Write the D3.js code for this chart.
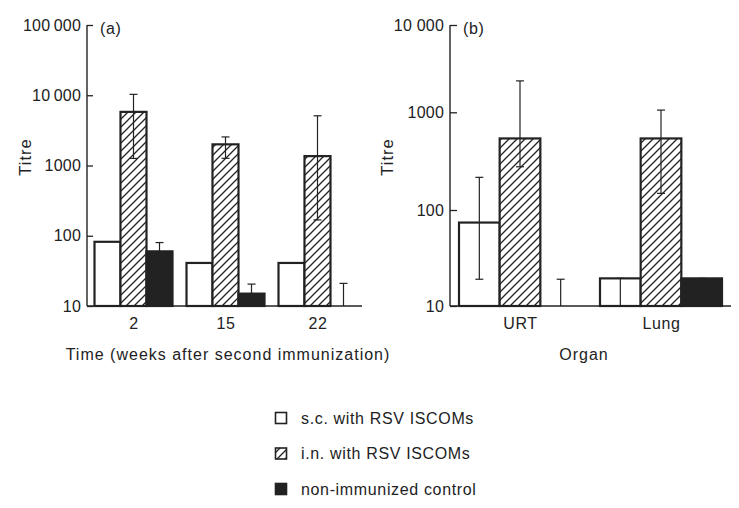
<!DOCTYPE html>
<html><head><meta charset="utf-8">
<script src="https://cdn.jsdelivr.net/npm/d3@7"></script>
<style>
body{margin:0;background:#fff;}
text{font-family:"Liberation Sans",Arial,sans-serif;fill:#222;}
</style></head>
<body><svg id="c" width="739" height="508"></svg>
<script>
// ---- data ----
const weeks = ["2", "15", "22"];
const scA = [82, 41, 41];
const inA = [5800, 2000, 1360];
const inLowA = [1260, 1265, 168];
const inHighA = [10300, 2550, 5100];
const ctrlA = [60, 15, 10];
const ctrlHighA = [80, 20.5, 21];

const organs = ["URT", "Lung"];
const scB = [74, 19.4];
const scLowB = [19, 10];
const scHighB = [216, 19.4];
const inB = [540, 540];
const inLowB = [277, 148];
const inHighB = [2290, 1060];
const ctrlB = [10, 19.4];
const ctrlHighB = [19, 19.4];

const tickValsA = [10, 100, 1000, 10000, 100000];
const tickLabA = ["10", "100", "1000", "10\u2009000", "100\u2009000"];
const tickValsB = [10, 100, 1000, 10000];
const tickLabB = ["10", "100", "1000", "10 000"];

const seriesNames = ["s.c. with RSV ISCOMs", "i.n. with RSV ISCOMs", "non-immunized control"];
const seriesKeys = ["sc", "in", "ctrl"];

const svg = d3.select("#c");
const ink = "#222";
const FS = "16px";

const defs = svg.append("defs");
const pat = defs.append("pattern").attr("id", "hatch").attr("patternUnits", "userSpaceOnUse")
  .attr("width", 8).attr("height", 8);
pat.append("rect").attr("width", 8).attr("height", 8).attr("fill", "#fff");
pat.append("path").attr("d", "M0,8 L8,0 M-2,2 L2,-2 M6,10 L10,6")
  .attr("stroke", ink).attr("stroke-width", 1.3);
const fills = {sc: "#fff", in: "url(#hatch)", ctrl: ink};

function panel(opt) {
  const g = svg.append("g");
  const y = d3.scaleLog().domain(opt.yDomain).range(opt.yRange);
  const x0 = d3.scalePoint().domain(opt.cats).range(opt.xCenters);
  const x1 = d3.scaleBand().domain(seriesKeys).range([-opt.half, opt.half]);
  const bw = x1.bandwidth();

  const rows = opt.cats.map((c, i) => ({
    cat: c,
    sc: {v: opt.sc[i], lo: opt.scLow ? opt.scLow[i] : null, hi: opt.scHigh ? opt.scHigh[i] : null},
    in: {v: opt.inn[i], lo: opt.inLow[i], hi: opt.inHigh[i]},
    ctrl: {v: opt.ctrl[i], lo: null, hi: opt.ctrlHigh[i]}
  }));

  // bars
  rows.forEach(r => {
    seriesKeys.forEach(k => {
      const d = r[k];
      if (d.v > opt.yDomain[0]) {
        g.append("rect")
          .attr("x", x0(r.cat) + x1(k))
          .attr("y", y(d.v))
          .attr("width", bw)
          .attr("height", y(opt.yDomain[0]) - y(d.v))
          .attr("fill", fills[k]).attr("stroke", ink).attr("stroke-width", 2.2);
      }
    });
  });
  // error bars
  rows.forEach(r => {
    seriesKeys.forEach(k => {
      const d = r[k];
      if (d.hi == null) return;
      const cx = x0(r.cat) + x1(k) + bw / 2;
      const lo = d.lo == null ? d.v : d.lo;
      g.append("line").attr("x1", cx).attr("x2", cx).attr("y1", y(lo)).attr("y2", y(d.hi))
        .attr("stroke", ink).attr("stroke-width", 1.2);
      g.append("line").attr("x1", cx - 4).attr("x2", cx + 4).attr("y1", y(d.hi)).attr("y2", y(d.hi))
        .attr("stroke", ink).attr("stroke-width", 1.2);
      if (d.lo != null && d.lo > opt.yDomain[0]) {
        g.append("line").attr("x1", cx - 4).attr("x2", cx + 4).attr("y1", y(d.lo)).attr("y2", y(d.lo))
          .attr("stroke", ink).attr("stroke-width", 1.2);
      }
    });
  });

  // y axis
  const yAxis = d3.axisRight(y).tickValues(opt.tickVals).tickFormat((d, i) => opt.tickLab[i])
    .tickSize(opt.tickLen).tickPadding(0);
  const ya = g.append("g").attr("transform", `translate(${opt.axisX},0)`).call(yAxis);
  ya.select(".domain").remove();
  ya.selectAll(".tick line").attr("stroke", ink).attr("stroke-width", 1.3);
  ya.selectAll(".tick text").attr("x", -6).attr("text-anchor", "end")
    .style("font-size", FS).style("font-family", "'Liberation Sans',Arial,sans-serif")
    .style("letter-spacing", "0.2px").attr("fill", ink);
  g.append("line").attr("x1", opt.axisX).attr("x2", opt.axisX)
    .attr("y1", opt.yRange[opt.yRange.length - 1]).attr("y2", opt.yRange[0])
    .attr("stroke", ink).attr("stroke-width", 1.4);
  // x axis
  g.append("line").attr("x1", opt.axisX).attr("x2", opt.xEnd)
    .attr("y1", opt.yRange[0]).attr("y2", opt.yRange[0])
    .attr("stroke", ink).attr("stroke-width", 1.4);
  const xa = d3.axisBottom(x0).tickSize(0).tickPadding(0);
  const xg = g.append("g").attr("transform", `translate(0,${opt.yRange[0]})`).call(xa);
  xg.select(".domain").remove();
  xg.selectAll(".tick text").attr("y", 12).attr("dy", "0.71em")
    .style("font-size", FS).style("font-family", "'Liberation Sans',Arial,sans-serif")
    .style("letter-spacing", "0.6px").attr("fill", ink);

  // titles
  g.append("text").attr("x", opt.axisX + 13).attr("y", 34).text(opt.letter)
    .style("font-size", FS).style("letter-spacing", "0.6px");
  g.append("text").attr("transform", `translate(${opt.titreX},157) rotate(-90)`)
    .attr("text-anchor", "middle").attr("dy", "0.35em").text("Titre")
    .style("font-size", "16.5px").style("letter-spacing", "1px");
  g.append("text").attr("x", opt.xTitleX).attr("y", 360).attr("text-anchor", "middle")
    .text(opt.xTitle).style("font-size", FS).style("letter-spacing", "1px");
}

panel({
  cats: weeks, sc: scA, inn: inA, inLow: inLowA, inHigh: inHighA, ctrl: ctrlA, ctrlHigh: ctrlHighA,
  yDomain: [10, 100000], yRange: [306, 25], xCenters: [133.5, 317.5], half: 39,
  tickVals: tickValsA, tickLab: tickLabA, tickLen: 6, axisX: 87, xEnd: 362,
  letter: "(a)", titreX: 25, xTitle: "Time (weeks after second immunization)", xTitleX: 228
});
panel({
  cats: organs, sc: scB, scLow: scLowB, scHigh: scHighB, inn: inB, inLow: inLowB, inHigh: inHighB,
  ctrl: ctrlB, ctrlHigh: ctrlHighB,
  yDomain: [10, 100, 1000, 10000], yRange: [306, 210, 112.3, 25], xCenters: [520, 661], half: 61,
  tickVals: tickValsB, tickLab: tickLabB, tickLen: 7, axisX: 450, xEnd: 731,
  letter: "(b)", titreX: 387, xTitle: "Organ", xTitleX: 584
});

// legend
const lg = svg.append("g");
const ly = d3.scalePoint().domain(seriesKeys).range([418, 489]);
seriesKeys.forEach((k, i) => {
  lg.append("rect").attr("x", 275.5).attr("y", ly(k) - 5.5).attr("width", 11).attr("height", 11)
    .attr("fill", fills[k]).attr("stroke", ink).attr("stroke-width", 1.6);
  lg.append("text").attr("x", 301).attr("y", ly(k)).attr("dy", "0.36em").text(seriesNames[i])
    .style("font-size", FS).style("letter-spacing", "0.65px");
});
</script></body></html>
